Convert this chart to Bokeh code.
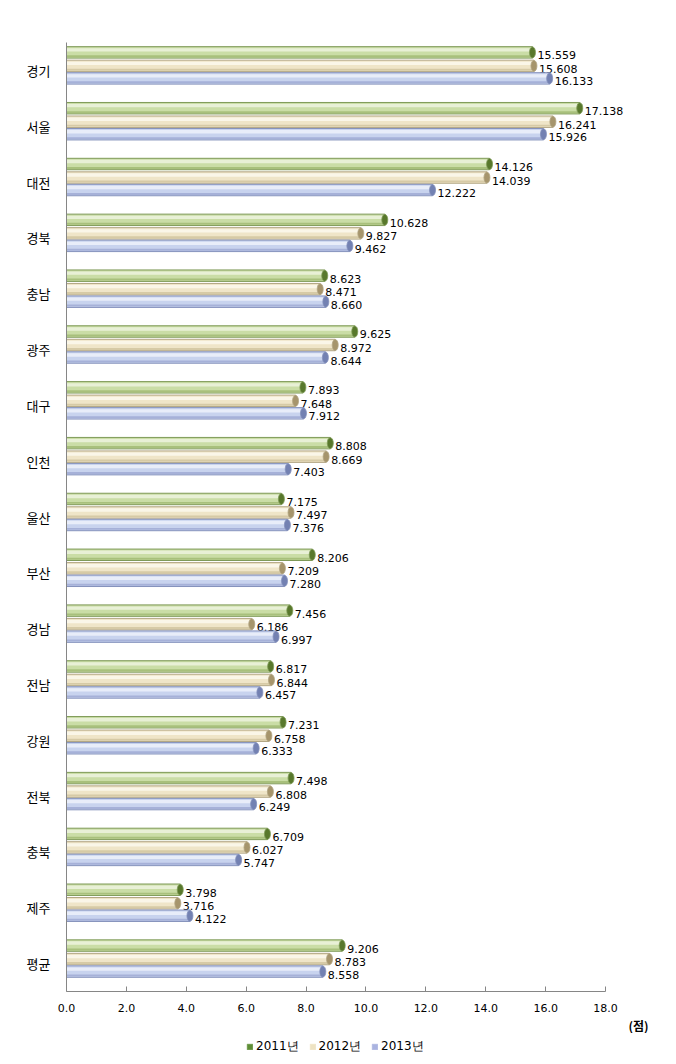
from bokeh.plotting import figure
from bokeh.layouts import column
from bokeh.models import (ColumnDataSource, FactorRange, Range1d, FixedTicker, Legend, LegendItem,
                          Title, NumeralTickFormatter)
from bokeh.transform import dodge
from bokeh.core.properties import value
from bokeh.embed import file_html
from bokeh.resources import INLINE

categories = ["경기", "서울", "대전", "경북", "충남", "광주", "대구", "인천", "울산",
              "부산", "경남", "전남", "강원", "전북", "충북", "제주", "평균"]
v2011 = [15.559, 17.138, 14.126, 10.628, 8.623, 9.625, 7.893, 8.808, 7.175,
         8.206, 7.456, 6.817, 7.231, 7.498, 6.709, 3.798, 9.206]
v2012 = [15.608, 16.241, 14.039, 9.827, 8.471, 8.972, 7.648, 8.669, 7.497,
         7.209, 6.186, 6.844, 6.758, 6.808, 6.027, 3.716, 8.783]
v2013 = [16.133, 15.926, 12.222, 9.462, 8.660, 8.644, 7.912, 7.403, 7.376,
         7.280, 6.997, 6.457, 6.333, 6.249, 5.747, 4.122, 8.558]
series_names = ["2011년", "2012년", "2013년"]
x_ticks = [0, 2, 4, 6, 8, 10, 12, 14, 16, 18]
unit_label = "(점)"

src = ColumnDataSource(dict(
    cat=categories, v2011=v2011, v2012=v2012, v2013=v2013,
    t2011=[f"{v:.3f}" for v in v2011],
    t2012=[f"{v:.3f}" for v in v2012],
    t2013=[f"{v:.3f}" for v in v2013],
))

XMAX = 19.5
p = figure(width=676, height=1034, output_backend="svg", toolbar_location=None,
           y_range=FactorRange(factors=categories[::-1], range_padding=0),
           x_range=Range1d(0, XMAX),
           min_border_left=66, min_border_right=26, min_border_top=42,
           min_border_bottom=0)
p.frame_height = 949
p.frame_width = 584
p.outline_line_color = None
p.xgrid.visible = False
p.ygrid.visible = False
p.background_fill_color = "white"
p.border_fill_color = "white"

styles = [
    # key, offset, base, highlight, shadow, edge, cap
    ("v2011", 0.323, "#cadda6", "#e8f0d6", "#a8c07c", "#7f9a58", "#58782c"),
    ("v2012", 0.081, "#efe5c8", "#faf6e8", "#d6caa6", "#b2a684", "#a6956c"),
    ("v2013", -0.143, "#c8d3ee", "#e8edf9", "#a6b1d8", "#8592bc", "#7381b2"),
]
bh = 0.205
for (key, off, base, hi, sh, edge, cap) in styles:
    p.hbar(y=dodge("cat", off, range=p.y_range), left=0, right=key, height=bh,
           source=src, fill_color=base, line_color=edge, line_width=1)
    p.hbar(y=dodge("cat", off + 0.045, range=p.y_range), left=0, right=key, height=0.06,
           source=src, fill_color=hi, line_color=None)
    p.hbar(y=dodge("cat", off - 0.07, range=p.y_range), left=0, right=key, height=0.035,
           source=src, fill_color=sh, line_color=None)
    p.ellipse(x=key, y=dodge("cat", off, range=p.y_range), width=6, height=11,
              width_units="screen", height_units="screen", source=src,
              fill_color=cap, line_color=edge, line_width=0.8)
    p.text(x=key, y=dodge("cat", off, range=p.y_range), text="t" + key[1:], source=src,
           x_offset=5, y_offset=3, text_baseline="middle", text_align="left",
           text_font=value("DejaVu Sans"), text_font_size="11px", text_color="#000000")

# axes
p.xaxis.ticker = FixedTicker(ticks=x_ticks)
p.xaxis.bounds = (0, 18)
p.xaxis.formatter = NumeralTickFormatter(format="0.0")
p.xaxis.major_tick_in = 5
p.xaxis.major_tick_out = 0
p.xaxis.minor_tick_line_color = None
p.xaxis.axis_line_color = "#868686"
p.xaxis.major_tick_line_color = "#868686"
p.xaxis.major_label_text_font = "DejaVu Sans"
p.xaxis.major_label_text_font_size = "11px"
p.xaxis.major_label_text_color = "#000000"
p.xaxis.major_label_standoff = 12

p.yaxis.major_tick_line_color = None
p.yaxis.minor_tick_line_color = None
p.yaxis.axis_line_color = "#868686"
p.yaxis.major_label_text_font = "Noto Sans CJK KR"
p.yaxis.major_label_text_font_size = "13px"
p.yaxis.major_label_text_color = "#000000"
p.yaxis.major_label_standoff = 10

p.add_layout(Title(text=unit_label, align="right", text_font="Noto Sans CJK KR",
                   text_font_size="12px", text_font_style="bold", text_color="#000000",
                   standoff=0, offset=2), "below")

# legend strip
lg = figure(width=676, height=24, output_backend="svg", toolbar_location=None,
            x_range=Range1d(0, 1), y_range=Range1d(0, 1),
            min_border_left=0, min_border_right=0, min_border_top=0, min_border_bottom=0)
lg.axis.visible = False
lg.grid.visible = False
lg.outline_line_color = None
lg.background_fill_color = "white"
lg.border_fill_color = "white"
legend_colors = ["#5e8e36", "#eee3c3", "#aab3e0"]
legend_items = []
nan = float("nan")
for name, c in zip(series_names, legend_colors):
    r = lg.hbar(y=[nan], left=[nan], right=[nan], height=0.5, fill_color=c,
                line_color=c, line_width=0.5)
    legend_items.append(LegendItem(label=name, renderers=[r]))
legend = Legend(items=legend_items, orientation="horizontal", location=(180, 2),
                glyph_width=7, glyph_height=7, label_text_font_size="12px",
                label_text_font="DejaVu Sans", label_text_color="#000000",
                spacing=10, padding=0, margin=0,
                label_height=12, border_line_color=None, background_fill_alpha=0,
                label_standoff=3)
lg.add_layout(legend, "center")

layout = column(p, lg, spacing=0)
open("out.html", "w").write(file_html(layout, INLINE))
